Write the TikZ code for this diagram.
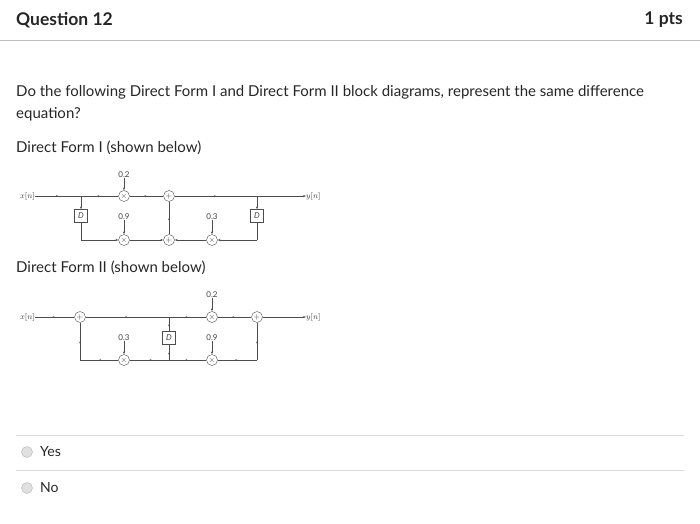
\documentclass[tikz,border=0pt]{standalone}
\usepackage{fontspec}
\setmainfont{Lato}
\usetikzlibrary{arrows.meta,decorations.markings}
\begin{document}
\begin{tikzpicture}[x=1pt,y=-1pt,
 txt/.style={anchor=west,inner sep=0,font=\fontsize{15}{17}\selectfont,text=black!85},
 sm/.style={inner sep=0,font=\fontsize{8}{9}\selectfont,text=black!75},
 op/.style={circle,draw=black!70,minimum size=11pt,inner sep=0,font=\fontsize{8}{8}\selectfont,text=black!75},
 dl/.style={draw=black!70,minimum size=13pt,inner sep=0,font=\fontsize{8}{8}\selectfont\itshape,text=black!75},
 w/.style={line width=0.6pt,draw=black!70},
 ar/.style={w,-{Stealth[length=3pt,width=2.2pt]}},
 mk/.style={w,postaction={decorate},decoration={markings,mark=at position 0.5 with {\arrow{Stealth[length=2pt,width=1.8pt]}}}},
 radio/.style={circle,draw=black!30,fill=black!12,minimum size=11pt,inner sep=0}]
\useasboundingbox (0,0) rectangle (700,523);
\node[txt,font=\fontsize{17.5}{20}\selectfont\bfseries] (q) at (16,20) {Question 12};
\node[anchor=east,inner sep=0,font=\fontsize{17.5}{20}\selectfont\bfseries,text=black!85] (p) at (683,20) {1 pts};
\draw[black!25] (0,40) -- (700,40);
\node[txt] (t1) at (16,92) {Do the following Direct Form I and Direct Form II block diagrams, represent the same difference};
\node[txt] (t2) at (16,114) {equation?};
\node[txt] (t3) at (16,148) {Direct Form I (shown below)};
\node[txt] (t4) at (16,268) {Direct Form II (shown below)};
% DF1
\node[sm,anchor=east] (x1) at (35,196) {$x[n]$};
\node[sm,anchor=west] (y1) at (306,196) {$y[n]$};
\node[op] (m1) at (124,196) {$\times$};
\node[op] (a1) at (169,196) {$+$};
\node[op] (m2) at (124,240) {$\times$};
\node[op] (a2) at (169,240) {$+$};
\node[op] (m3) at (212,240) {$\times$};
\node[dl] (d1) at (81,216) {D};
\node[dl] (d2) at (257,216) {D};
\node[sm] (g1) at (124,175) {0.2};
\node[sm] (g2) at (124,217) {0.9};
\node[sm] (g3) at (212,217) {0.3};
\coordinate (j1) at (81,196); \coordinate (j2) at (257,196);
\coordinate (b1) at (81,240); \coordinate (b2) at (257,240);
\draw[mk] (x1) -- (j1); \draw[mk] (j1) -- (m1); \draw[mk] (m1) -- (a1);
\draw[mk] (a1) -- (j2); \draw[ar] (j2) -- (y1);
\draw[ar] (j1) -- (d1); \draw[w] (d1) -- (b1); \draw[ar] (b1) -- (m2);
\draw[ar] (m2) -- (a2); \draw[mk] (a2) -- (a1);
\draw[ar] (j2) -- (d2); \draw[w] (d2) -- (b2); \draw[ar] (b2) -- (m3); \draw[ar] (m3) -- (a2);
\draw[ar] (g1) -- (m1); \draw[ar] (g2) -- (m2); \draw[ar] (g3) -- (m3);
% DF2
\node[sm,anchor=east] (x2) at (35,317) {$x[n]$};
\node[sm,anchor=west] (y2) at (306,317) {$y[n]$};
\node[op] (a3) at (80,317) {$+$};
\node[op] (m4) at (212,317) {$\times$};
\node[op] (a4) at (257,317) {$+$};
\node[op] (m5) at (124,360) {$\times$};
\node[op] (m6) at (212,360) {$\times$};
\node[dl] (d3) at (169,338) {D};
\node[sm] (g4) at (212,295) {0.2};
\node[sm] (g5) at (124,338) {0.3};
\node[sm] (g6) at (212,338) {0.9};
\coordinate (j3) at (169,317); \coordinate (j4) at (169,360);
\coordinate (b3) at (80,360); \coordinate (b4) at (257,360);
\draw[mk] (x2) -- (a3); \draw[mk] (a3) -- (j3); \draw[mk] (j3) -- (m4); \draw[mk] (m4) -- (a4);
\draw[ar] (a4) -- (y2);
\draw[mk] (d3) -- (j3); \draw[mk] (j4) -- (d3);
\draw[mk] (j4) -- (m5); \draw[mk] (m5) -- (b3); \draw[mk] (b3) -- (a3);
\draw[mk] (j4) -- (m6); \draw[mk] (m6) -- (b4); \draw[mk] (b4) -- (a4);
\draw[ar] (g4) -- (m4); \draw[ar] (g5) -- (m5); \draw[ar] (g6) -- (m6);
% answers
\draw[black!15] (16,435) -- (684,435);
\draw[black!15] (16,470) -- (684,470);
\node[radio] (r1) at (27,452) {};
\node[radio] (r2) at (27,488) {};
\node[txt,font=\fontsize{14}{16}\selectfont] (yes) at (40,452) {Yes};
\node[txt,font=\fontsize{14}{16}\selectfont] (no) at (40,488) {No};
\end{tikzpicture}
\end{document}
